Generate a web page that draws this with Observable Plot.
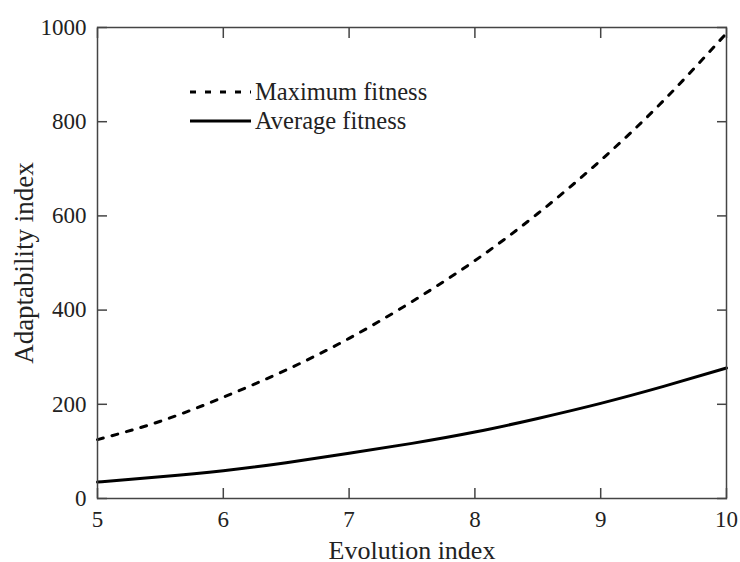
<!DOCTYPE html>
<html><head><meta charset="utf-8">
<script src="https://cdn.jsdelivr.net/npm/d3@7"></script>
<script src="https://cdn.jsdelivr.net/npm/@observablehq/plot@0.6"></script>
<style>body{margin:0;background:#fff} svg{display:block}</style>
</head><body><div id="chart"></div>
<script>
const evolution = [5, 5.5, 6, 6.5, 7, 7.5, 8, 8.5, 9, 9.5, 10];
const maximumFitness = [125, 164, 215, 273, 340, 418, 505, 605, 718, 845, 988];
const averageFitness = [35, 46, 59, 76, 96, 117, 141, 170, 202, 238, 277];
const xTicks = [5, 6, 7, 8, 9, 10];
const yTicks = [0, 200, 400, 600, 800, 1000];
const seriesNames = ["Maximum fitness", "Average fitness"];
const xLabel = "Evolution index";
const yLabel = "Adaptability index";

const maxRows = evolution.map((x, i) => ({x, y: maximumFitness[i]}));
const avgRows = evolution.map((x, i) => ({x, y: averageFitness[i]}));

const font = "'Liberation Serif', 'Times New Roman', serif";
const axisCol = "#444";
const ink = "#222";

const plot = Plot.plot({
  width: 740, height: 562,
  marginLeft: 97, marginRight: 14, marginTop: 27, marginBottom: 64,
  style: {fontFamily: font, fontSize: "23px", color: ink, background: "#fff"},
  x: {domain: [5, 10]},
  y: {domain: [0, 1000]},
  marks: [
    Plot.line(maxRows, {x: "x", y: "y", stroke: "#000", strokeWidth: 3, strokeDasharray: "6,9", curve: "natural"}),
    Plot.line(avgRows, {x: "x", y: "y", stroke: "#000", strokeWidth: 3, curve: "natural"}),
    Plot.frame({stroke: axisCol, strokeWidth: 1.5}),
    Plot.axisX(xTicks, {anchor: "bottom", tickSize: -10, tickFormat: () => "", label: null, stroke: axisCol, strokeWidth: 1.5}),
    Plot.axisX(xTicks, {anchor: "top", tickSize: -10, tickFormat: () => "", label: null, stroke: axisCol, strokeWidth: 1.5}),
    Plot.axisY(yTicks, {anchor: "left", tickSize: -10, tickFormat: () => "", label: null, stroke: axisCol, strokeWidth: 1.5}),
    Plot.axisY(yTicks, {anchor: "right", tickSize: -10, tickFormat: () => "", label: null, stroke: axisCol, strokeWidth: 1.5}),
    Plot.text(xTicks, {x: d => d, text: d => String(d), frameAnchor: "bottom", lineAnchor: "top", textAnchor: "middle", dy: 12, fontSize: 23, fontFamily: font, fill: ink}),
    Plot.text(yTicks, {y: d => d, text: d => String(d), frameAnchor: "left", lineAnchor: "middle", textAnchor: "end", dx: -11, fontSize: 23, fontFamily: font, fill: ink}),
    Plot.text([xLabel], {text: d => d, frameAnchor: "bottom", lineAnchor: "bottom", textAnchor: "middle", dy: 60, fontSize: 26, fontFamily: font, fill: ink}),
    Plot.text([yLabel], {text: d => d, frameAnchor: "left", lineAnchor: "middle", textAnchor: "middle", rotate: -90, dx: -73, fontSize: 27, fontFamily: font, fill: ink})
  ]
});

const svg = d3.select(plot);
const lg = svg.append("g").attr("font-family", font).attr("font-size", 24.5)
  .attr("fill", ink).attr("text-anchor", "start");
const legendItems = [
  {name: seriesNames[0], dash: "6,9", y: 92},
  {name: seriesNames[1], dash: null, y: 121}
];
legendItems.forEach(d => {
  lg.append("line").attr("x1", 190).attr("x2", 251).attr("y1", d.y).attr("y2", d.y)
    .attr("stroke", "#000").attr("stroke-width", 3).attr("stroke-dasharray", d.dash);
  lg.append("text").attr("x", 255).attr("y", d.y + 7.5).text(d.name);
});

document.getElementById("chart").appendChild(plot);
</script>
</body></html>
